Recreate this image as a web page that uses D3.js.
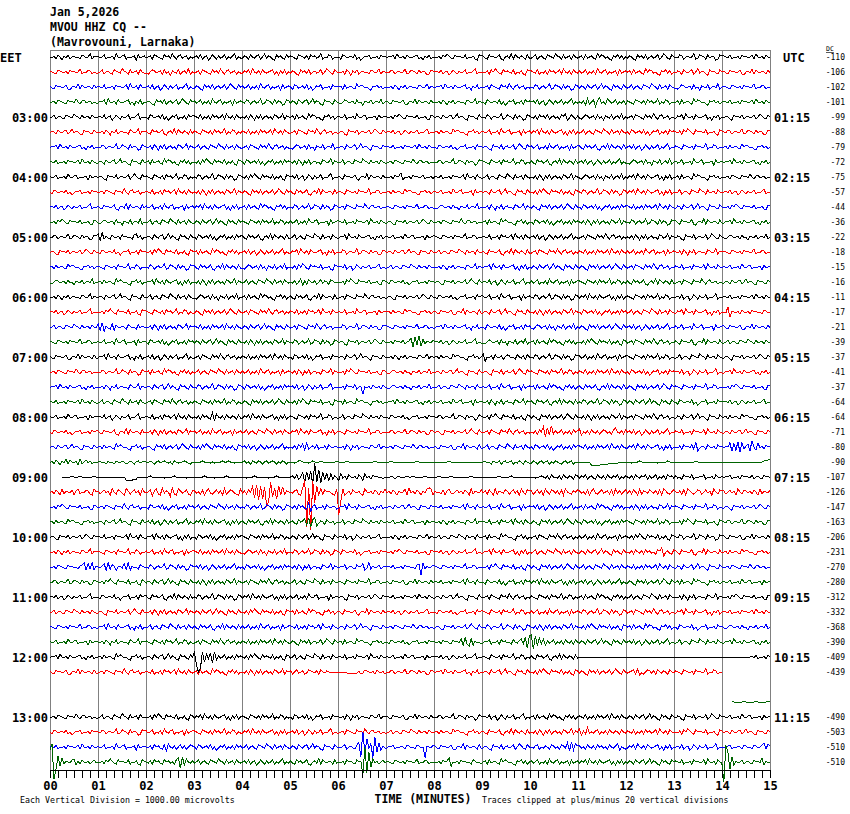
<!DOCTYPE html>
<html>
<head>
<meta charset="utf-8">
<script src="https://cdn.jsdelivr.net/npm/d3@7"></script>
<style>
  body { margin: 0; background: #fff; }
  svg { display: block; }
  text { font-family: "DejaVu Sans Mono", monospace; fill: #000; }
</style>
</head>
<body>
<div id="chart"></div>
<script>
// header and labels
const titleLines = ['Jan 5,2026', 'MVOU HHZ CQ --', '(Mavrovouni, Larnaka)'];
const localHours = ['03:00', '04:00', '05:00', '06:00', '07:00', '08:00', '09:00', '10:00', '11:00', '12:00', '13:00'];
const utcHours = ['01:15', '02:15', '03:15', '04:15', '05:15', '06:15', '07:15', '08:15', '09:15', '10:15', '11:15'];
const minuteLabels = ['00', '01', '02', '03', '04', '05', '06', '07', '08', '09', '10', '11', '12', '13', '14', '15'];
const dcValues = [-110, -106, -102, -101, -99, -88, -79, -72, -75, -57, -44, -36,
  -22, -18, -15, -16, -11, -17, -21, -39, -37, -41, -37, -64,
  -64, -71, -80, -90, -107, -126, -147, -163, -206, -231, -270, -280,
  -312, -332, -368, -390, -409, -439, null, null, -490, -503, -510, -510];
const traceColors = ['#000000', '#ff0000', '#0000ff', '#006400'];

// traces: one char per 2.5 s sample, 'm' = 0, each letter step = STEP_UV microvolts, '.' = no data
// groups of 24 = one minute
const STEP_UV = 70;
const h02 = [
  'mlnkomjnlokmnlmkonlmpknm nlmokmlnkpmlnokmlmnjolmn lmnkonmlkomnlpmknolmnkml mnlokmnjlomknlmokmlnpkml lnmkomlnokmplnmkjomnlkom nmlkonmlnkomnlmpkmlonkml mkonlmnlokmjlnmokmlnkomn lnmokpmlnkomlmnokmjnlokm mlnkompnlkomnmlokmlnkjon nlkomnlmokjmnlpkomlnmkol lmokmnlkonmlpnmkolmnkoml mnkolmnlkpmonlmkjnmolnkm lnmkjomnlokmnlmokmpnlkom mlonkmnlmpklonmkolnmjkon nmlokmlnkomnlmokpmlnkoml',
  'nmlkonmlnkomnlmpkmlonkml lmokmnlkonmlpnmkolmnkoml lkmonlmnkolmjnmlokmnlpkm lmnkonmlkomnlpmknolmnkml lnmokpmlnkomlmnokmjnlokm lnmkjomnlokmnlmokmpnlkom mlnkomjnlokmnlmkonlmpknm mlonkmnlmpklonmkolnmjkon mnlokmnjlomknlmokmlnpkml mlnkompnlkomnmlokmlnkjon nmlokmlnkomnlmokpmlnkoml nlmokmlnkpmlnokmlmnjolmn mnkolmnlkpmonlmkjnmolnkm lnmkomlnokmplnmkjomnlkom nlkomnlmokjmnlpkomlnmkol',
  'nlkomnlmokjmnlpkomlnmkol nmlokmlnkomnlmokpmlnkoml mnlokmnjlomknlmokmlnpkml lnmkjomnlokmnlmokmpnlkom nlmokmlnkpmlnokmlmnjolmn mkonlmnlokmjlnmokmlnkomn mnkolmnlkpmonlmkjnmolnkm mlnkomjnlokmnlmkonlmpknm lnmokpmlnkomlmnokmjnlokm lmnkonmlkomnlpmknolmnkml mlonkmnlmpklonmkolnmjkon lnmkomlnokmplnmkjomnlkom lmokmnlkonmlpnmkolmnkoml lkmonlmnkolmjnmlokmnlpkm nmlkonmlnkomnlmpkmlonkml',
  'lmnkonmlkomnlpmknolmnkml lnmokpmlnkomlmnokmjnlokm lnmkjomnlokmnlmokmpnlkom nlmokmlnkpmlnokmlmnjolmn mlonkmnlmpklonmkolnmjkon lnmkomlnokmplnmkjomnlkom lkmonlmnkolmjnmlokmnlpkm nlkomnlmokjmnlpkomlnmkol mlnkomjnlokmnlmkonlmpknm mkonlmnlokmjlnmokmlnkomn mnlokmnjlomknlmokmlnpkml mlnjpkmoinqlmkpnlmokmlnk nmlkonmlnkomnlmpkmlonkml mnkolmnlkpmonlmkjnmolnkm nmlokmlnkomnlmokpmlnkoml'
];
const h03 = [
  'lmokmnlkonmlpnmkolmnkoml mnlokmnjlomknlmokmlnpkml mkonlmnlokmjlnmokmlnkomn nmlokmlnkomnlmokpmlnkoml mlnkomjnlokmnlmkonlmpknm mnkolmnlkpmonlmkjnmolnkm nlmokmlnkpmlnokmlmnjolmn mlnkompnlkomnmlokmlnkjon lnmkomlnokmplnmkjomnlkom mlonkmnlmpklonmkolnmjkon mlnkomnlokmnlmkonpjlomkn lkmonlmnkolmjnmlokmnlpkm lmnkonmlkomnlpmknolmnkml lnmokpmlnkomlmnokmjnlokm lnmkjomnlokmnlmokmpnlkom',
  'lnmkomlnokmplnmkjomnlkom mlnkomjnlokmnlmkonlmpknm nlkomnlmokjmnlpkomlnmkol nmlkonmlnkomnlmpkmlonkml nmlokmlnkomnlmokpmlnkoml lmnkonmlkomnlpmknolmnkml lnmkjomnlokmnlmokmpnlkom mnlokmnjlomknlmokmlnpkml mnkolmnlkpmonlmkjnmolnkm nlmokmlnkpmlnokmlmnjolmn lnmokpmlnkomlmnokmjnlokm lmokmnlkonmlpnmkolmnkoml mkonlmnlokmjlnmokmlnkomn mlnkompnlkomnmlokmlnkjon mlonkmnlmpklonmkolnmjkon',
  'lnmokpmlnkomlmnokmjnlokm mlonkmnlmpklonmkolnmjkon mlnkomjnlokmnlmkonlmpknm lmokmnlkonmlpnmkolmnkoml lmnkonmlkomnlpmknolmnkml lkmonlmnkolmjnmlokmnlpkm lnmkomlnokmplnmkjomnlkom nmlokmlnkomnlmokpmlnkoml mkonlmnlokmjlnmokmlnkomn lnmkjomnlokmnlmokmpnlkom nlmokmlnkpmlnokmlmnjolmn nlkomnlmokjmnlpkomlnmkol mnlokmnjlomknlmokmlnpkml nmlkonmlnkomnlmpkmlonkml mnkolmnlkpmonlmkjnmolnkm',
  'nmlokmlnkomnlmokpmlnkoml lnmkomlnokmplnmkjomnlkom mnkolmnlkpmonlmkjnmolnkm mlnkompnlkomnmlokmlnkjon mkonlmnlokmjlnmokmlnkomn mlnkomjnlokmnlmkonlmpknm lmokmnlkonmlpnmkolmnkoml lmnkonmlkomnlpmknolmnkml mlonkmnlmpklonmkolnmjkon nmlkonmlnkomnlmpkmlonkml nlkomnlmokjmnlpkomlnmkol mnlokmnjlomknlmokmlnpkml lkmonlmnkolmjnmlokmnlpkm nlmokmlnkpmlnokmlmnjolmn lnmokpmlnkomlmnokmjnlokm'
];
const h04 = [
  'nlmokmlnkpmlnokmlmnjolmn lnmkjomnlokmnlmokmpnlkom nmlkonmlnkomnlmpkmlonkml mlonkmnlmpklonmkolnmjkon mlnkompnlkomnmlokmlnkjon mnlokmnjlomknlmokmlnpkml nlkomnlmokjmnlpkomlnmkol mlnkomnqjmlnkomnlmokmlnk nmlokmlnkomnlmokpmlnkoml lmokmnlkonmlpnmkolmnkoml mlnkomjnlokmnlmkonlmpknm lkmonlmnkolmjnmlokmnlpkm lnmokpmlnkomlmnokmjnlokm mnkolmnlkpmonlmkjnmolnkm lmnkonmlkomnlpmknolmnkml',
  'mkonlmnlokmjlnmokmlnkomn lmnkonmlkomnlpmknolmnkml nmlokmlnkomnlmokpmlnkoml mlnkomjnlokmnlmkonlmpknm lnmkjomnlokmnlmokmpnlkom nlkomnlmokjmnlpkomlnmkol nmlkonmlnkomnlmpkmlonkml mnkolmnlkpmonlmkjnmolnkm nlmokmlnkpmlnokmlmnjolmn lnmkomlnokmplnmkjomnlkom mlnkompnlkomnmlokmlnkjon mlonkmnlmpklonmkolnmjkon lnmokpmlnkomlmnokmjnlokm lmokmnlkonmlpnmkolmnkoml mnlokmnjlomknlmokmlnpkml',
  'mnlokmnjlomknlmokmlnpkml nlkomnlmokjmnlpkomlnmkol nlmokmlnkpmlnokmlmnjolmn lnmokpmlnkomlmnokmjnlokm mnkolmnlkpmonlmkjnmolnkm mlonkmnlmpklonmkolnmjkon lmnkonmlkomnlpmknolmnkml nmlkonmlnkomnlmpkmlonkml lkmonlmnkolmjnmlokmnlpkm mlnkomjnlokmnlmkonlmpknm lnmkjomnlokmnlmokmpnlkom mkonlmnlokmjlnmokmlnkomn nmlokmlnkomnlmokpmlnkoml lnmkomlnokmplnmkjomnlkom mlnkompnlkomnmlokmlnkjon',
  'mlnkompnlkomnmlokmlnkjon lkmonlmnkolmjnmlokmnlpkm lmokmnlkonmlpnmkolmnkoml lnmkomlnokmplnmkjomnlkom nmlkonmlnkomnlmpkmlonkml nlmokmlnkpmlnokmlmnjolmn nmlokmlnkomnlmokpmlnkoml lnmkjomnlokmnlmokmpnlkom lmnkonmlkomnlpmknolmnkml mnkolmnlkpmonlmkjnmolnkm mkonlmnlokmjlnmokmlnkomn mlnkomjnlokmnlmkonlmpknm mlonkmnlmpklonmkolnmjkon nlkomnlmokjmnlpkomlnmkol lnmokpmlnkomlmnokmjnlokm'
];
const h05 = [
  'mlonkmnlmpklonmkolnmjkon pjqknlkomlnkomnlmkoplnkm lnmkomlnokmplnmkjomnlkom mkonlmnlokmjlnmokmlnkomn nlkomnlmokjmnlpkomlnmkol lmokmnlkonmlpnmkolmnkoml lnmokpmlnkomlmnokmjnlokm nlmokmlnkpmlnokmlmnjolmn nmlkonmlnkomnlmpkmlonkml nmlokmlnkomnlmokpmlnkoml mnlokmnjlomknlmokmlnpkml lmnkonmlkomnlpmknolmnkml mlnkomjnlokmnlmkonlmpknm lnmkjomnlokmnlmokmpnlkom lkmonlmnkolmjnmlokmnlpkm',
  'lnmkjomnlokmnlmokmpnlkom mkonlmnlokmjlnmokmlnkomn mlnkompnlkomnmlokmlnkjon mnkolmnlkpmonlmkjnmolnkm mnlokmnjlomknlmokmlnpkml lnmokpmlnkomlmnokmjnlokm mlonkmnlmpklonmkolnmjkon lnmkomlnokmplnmkjomnlkom lmokmnlkonmlpnmkolmnkoml nlkomnlmokjmnlpkomlnmkol lmnkonmlkomnlpmknolmnkml nmlokmlnkomnlmokpmlnkoml nlmokmlnkpmlnokmlmnjolmn mlnkomjnlokmnlmkonlmpknm nmlkonmlnkomnlmpkmlonkml',
  'mnkolmnlkpmonlmkjnmolnkm nmlkonmlnkomnlmpkmlonkml mlonkmnlmpklonmkolnmjkon nlkomnlmokjmnlpkomlnmkol lkmonlmnkolmjnmlokmnlpkm mlnkompnlkomnmlokmlnkjon mnlokmnjlomknlmokmlnpkml lmokmnlkonmlpnmkolmnkoml mlnkomjnlokmnlmkonlmpknm lnmokpmlnkomlmnokmjnlokm lnmkomlnokmplnmkjomnlkom lnmkjomnlokmnlmokmpnlkom lmnkonmlkomnlpmknolmnkml nmlokmlnkomnlmokpmlnkoml nlmokmlnkpmlnokmlmnjolmn',
  'lkmonlmnkolmjnmlokmnlpkm mnkolmnlkpmonlmkjnmolnkm lnmokpmlnkomlmnokmjnlokm mlnkomjnlokmnlmkonlmpknm lmokmnlkonmlpnmkolmnkoml mlnkmpjnkomlnkmolnmkonlm mlnkompnlkomnmlokmlnkjon mkonlmnlokmjlnmokmlnkomn lnmkjomnlokmnlmokmpnlkom mnlokmnjlomknlmokmlnpkml nlmokmlnkpmlnokmlmnjolmn nmlkonmlnkomnlmpkmlonkml nlkomnlmokjmnlpkomlnmkol lmnkonmlkomnlpmknolmnkml lnmkomlnokmplnmkjomnlkom'
];
const h06 = [
  'mlnkomjnlokmnlmkonlmpknm lnmkomlnokmplnmkjomnlkom lmokmnlkonmlpnmkolmnkoml lkmonlmnkolmjnmlokmnlpkm mnkolmnlkpmonlmkjnmolnkm nlkomnlmokjmnlpkomlnmkol lmnkonmlkomnlpmknolmnkml lnmkjomnlokmnlmokmpnlkom mkonlmnlokmjlnmokmlnkomn nlmokmlnkpmlnokmlmnjolmn mlonkmnlmpklonmkolnmjkon lnmokpmlnkomlmnokmjnlokm nmlkonmlnkomnlmpkmlonkml mnlokmnjlomknlmokmlnpkml nmlokmlnkomnlmokpmlnkoml',
  'mnlokmnjlomknlmokmlnpkml mlnkompnlkomnmlokmlnkjon nmlkonmlnkomnlmpkmlonkml lnmkjomnlokmnlmokmpnlkom lmnkonmlkomnlpmknolmnkml nmlokmlnkomnlmokpmlnkoml nlmokmlnkpmlnokmlmnjolmn mnkolmnlkpmonlmkjnmolnkm nlkomnlmokjmnlpkomlnmkol lnmkomlnokmplnmkjomnlkom mlnkomjnlokmnlmkonlmpknm mkonlmnlokmjlnmokmlnkomn lmokmnlkonmlpnmkolmnkoml lnmokpmlnkomlmnokmjnlokm mlrhnmlnkomlnkomnlmkonlm',
  'lmokmnlkonmlpnmkolmnkoml pjqinlkpjomlnmkonlmkolnm mlnkomjnlokmnlmkonlmpknm nmlokmlnkomnlmokpmlnkoml lnmkomlnokmplnmkjomnlkom lmnkonmlkomnlpmknolmnkml mlonkmnlmpklonmkolnmjkon nmlkonmlnkomnlmpkmlonkml lnmokpmlnkomlmnokmjnlokm mkonlmnlokmjlnmokmlnkomn lkmonlmnkolmjnmlokmnlpkm lnmkjomnlokmnlmokmpnlkom mnlokmnjlomknlmokmlnpkml nlmokmlnkpmlnokmlmnjolmn nlkomnlmokjmnlpkomlnmkol',
  'nmlkonmlnkomnlmpkmlonkml nlmokmlnkpmlnokmlmnjolmn mkonlmnlokmjlnmokmlnkomn lnmkomlnokmplnmkjomnlkom mlnkomjnlokmnlmkonlmpknm mlonkmnlmpklonmkolnmjkon lnmkjomnlokmnlmokmpnlkom mlnkomnlokmnqhrjsipknmlo mnlokmnjlomknlmokmlnpkml lkmonlmnkolmjnmlokmnlpkm mnkolmnlkpmonlmkjnmolnkm mlnkompnlkomnmlokmlnkjon lmnkonmlkomnlpmknolmnkml nlkomnlmokjmnlpkomlnmkol lmokmnlkonmlpnmkolmnkoml'
];
const h07 = [
  'nlkomnlmokjmnlpkomlnmkol lnmokpmlnkomlmnokmjnlokm mnlokmnjlomknlmokmlnpkml lmnkonmlkomnlpmknolmnkml nmlokmlnkomnlmokpmlnkoml mkonlmnlokmjlnmokmlnkomn lnmkomlnokmplnmkjomnlkom mlnkomjnlokmnlmkonlmpknm mnkolmnlkpmonlmkjnmolnkm pimlnkomlnkmonlmkomlnkom mlonkmnlmpklonmkolnmjkon nlmokmlnkpmlnokmlmnjolmn nmlkonmlnkomnlmpkmlonkml lmokmnlkonmlpnmkolmnkoml lnmkjomnlokmnlmokmpnlkom',
  'lmnkonmlkomnlpmknolmnkml mlonkmnlmpklonmkolnmjkon mnkolmnlkpmonlmkjnmolnkm lmokmnlkonmlpnmkolmnkoml nlmokmlnkpmlnokmlmnjolmn mlnkomjnlokmnlmkonlmpknm mlnkompnlkomnmlokmlnkjon lkmonlmnkolmjnmlokmnlpkm lnmkomlnokmplnmkjomnlkom lnmkjomnlokmnlmokmpnlkom nmlkonmlnkomnlmpkmlonkml nmlokmlnkomnlmokpmlnkoml mkonlmnlokmjlnmokmlnkomn mnlokmnjlomknlmokmlnpkml lnmokpmlnkomlmnokmjnlokm',
  'lnmokpmlnkomlmnokmjnlokm mlnkomjnlokmnlmkonlmpknm lnmkomlnokmplnmkjomnlkom mlonkmnlmpklonmkolnmjkon mkonlmnlokmjlnmokmlnkomn mnlokmnjlomknlmokmlnpkml mlnkomnlokmnfmlnkomlnkom lkmonlmnkolmjnmlokmnlpkm lmokmnlkonmlpnmkolmnkoml nlmokmlnkpmlnokmlmnjolmn mnkolmnlkpmonlmkjnmolnkm nlkomnlmokjmnlpkomlnmkol lnmkjomnlokmnlmokmpnlkom nmlkonmlnkomnlmpkmlonkml mlnkompnlkomnmlokmlnkjon',
  'nmlokmlnkomnlmokpmlnkoml lmokmnlkonmlpnmkolmnkoml lmnkonmlkomnlpmknolmnkml nmlkonmlnkomnlmpkmlonkml lnmkjomnlokmnlmokmpnlkom mlnkompnlkomnmlokmlnkjon mnkolmnlkpmonlmkjnmolnkm lnmokpmlnkomlmnokmjnlokm nlmokmlnkpmlnokmlmnjolmn mlnkomjnlokmnlmkonlmpknm nlkomnlmokjmnlpkomlnmkol mlonkmnlmpklonmkolnmjkon lnmkomlnokmplnmkjomnlkom mkonlmnlokmjlnmokmlnkomn mnlokmnjlomknlmokmlnpkml'
];
const h08 = [
  'nlmokmlnkpmlnokmlmnjolmn mnlokmnjlomknlmokmlnpkml nmlokmlnkomnlmokpmlnkoml mlnkomnlkqipmlnkomlnmkol lnmokpmlnkomlmnokmjnlokm nmlkonmlnkomnlmpkmlonkml lmokmnlkonmlpnmkolmnkoml mkonlmnlokmjlnmokmlnkomn mlonkmnlmpklonmkolnmjkon mlnkompnlkomnmlokmlnkjon lnmkjomnlokmnlmokmpnlkom mlnkomjnlokmnlmkonlmpknm lmnkonmlkomnlpmknolmnkml lnmkomlnokmplnmkjomnlkom mnkolmnlkpmonlmkjnmolnkm',
  'mkonlmnlokmjlnmokmlnkomn nlkomnlmokjmnlpkomlnmkol mlnkomjnlokmnlmkonlmpknm nlmokmlnkpmlnokmlmnjolmn lmokmnlkonmlpnmkolmnkoml lnmokpmlnkomlmnokmjnlokm nmlkonmlnkomnlmpkmlonkml mlonkmnlmpklonmkolnmjkon lnmkjomnlokmnlmokmpnlkom lmnkonmlkomnlpmknolmnkml mlnkomrhqjsknlmokmlnkomn pjmlnkomlnkmonlmkoqmlnko mnlokmnjlomknlmokmlnpkml nmlokmlnkomnlmokpmlnkoml lnmkomlnokmplnmkjomnlkom',
  'lnmkomlnokmplnmkjomnlkom mnkolmnlkpmonlmkjnmolnkm lnmkjomnlokmnlmokmpnlkom mlnkompnlkomnmlokmlnkjon mnlokmnjlomknlmokmlnpkml mlnkompjqkmnlokmlnkomlnm mlnkomjnlokmnlmkonlmpknm lmnkonmlkomnlpmknolmnkml nlkomnlmokjmnlpkomlnmkol lmokmnlkonmlpnmkolmnkoml mkonlmnlokmjlnmokmlnkomn nmlokmlnkomnlmokpmlnkoml lnmokpmlnkomlmnokmjnlokm mlnkomnlokrilnmkomlnkomn lnmqipjrhqknpismjqlnkomn',
  'lnkomjnlpkomlnjpkmolnkml mnlmknlmknmlnmklnmkmnlmn mlnmkmnlmnmlmknmlmmnmlkm mmmmnmmmlmlmmmnmmnmmlmmm mnlmknmlnmkmnlmnmkmlnmkm mmlmnnmmmlmnmmmnmmlmmmmn mmmmnmmmmlmmmmmmmmnmmmmm mmnmmmmlmmmmmmmnmmmmmlmm mmmmlmmnmmmmmmmmmlmmmmmm mnlmknmlnkmnlmnkmlnmknml lnmkmnlmnkmlnmlkmnlmnkmm mmmmmmjjjjjkkkklllllmmmm mmlmmmnmmmmmmmmlmmmmnmmm mmmmmlmmmmnmmmmmmmlmmmmm mmmmmmmmmmmmmmmmmmmmnnoo'
];
const h09 = [
  '......mmlmmnmmmnmmlmmmnm mmmmmmmmmmmmmmjjjjkkmmmm mmnmmmmmmlmmmmnmmmmmlmmm mmmmmnmmmmlmmmmmnmmmmmmm mmlmmmnmmmmmmlmmmnmmmmmm mnlokmqhrjsfqhtgrjqipknl jplnkomlnkomjplnkomnlmkm mlnmkmnlmmnmmnmlmmmnmmlm mmnmmlmmnmmmmmlmmmnmmmmm mmmmlmmmnmmmmmnmmmlmmmmm mmlmmnmlnkommlnkomlnmkon lnmokmnlkomlnkomlnmokmln mlnkomlnmoknlmokmlnkomnl nlmkomnlokmlnmokmlnkomln lnmokmlnkomnmlokmnlkomnl',
  'lnkomjpknmlojnpkmlonkjpm nkmolnjpmkonljpnkmolnjpm lmoinpkjqlnmiqkjpnlmokjn nlmkojnplkmolnjpkmonlkjp lnkomrgtesfrkdvhqfsjrknm mlnokjqxbqdwcsjpkomnlkjp rdpjlnkomlnkjpmlnkomjnlp lnkomjnlmpjqlnkomjnlpqpj nlmkojnplkmolnkomjpknmlo lnkomjpknmlonkmolnjpmkon nkmolnjpmkonlnkojpmlknmo nlmkojnplkmolmnkojplnkmo lnkomjpknmlomlnkojpnlkmo mlnkojpnlkmonkmolnjpmkon nkmolnjpmkonlnkomjpknmlo',
  'mlnkompnlkomnmlokmlnkjon lmnkonmlkomnlpmknolmnkml mkonlmnlokmjlnmokmlnkomn lmokmnlkonmlpnmkolmnkoml mlonkmnlmpklonmkolnmjkon mlnkomnlkqinokmlnkomlnmk lnmokpmlnkomlmnokmjnlokm lnmkomlnokmplnmkjomnlkom nmlokmlnkomnlmokpmlnkoml nlmokmlnkpmlnokmlmnjolmn mnlokmnjlomknlmokmlnpkml mnkolmnlkpmonlmkjnmolnkm mlnkomjnlokmnlmkonlmpknm nmlkonmlnkomnlmpkmlonkml lnmkjomnlokmnlmokmpnlkom',
  'mnkolmnlkpmonlmkjnmolnkm lnmkomlnokmplnmkjomnlkom mnlokmnjlomknlmokmlnpkml lnmokpmlnkomlmnokmjnlokm nlkomnlmokjmnlpkomlnmkol mnlkomnpjqhoqilnmkomlnkm lmokmnlkonmlpnmkolmnkoml nlmokmlnkpmlnokmlmnjolmn mlnkomjnlokmnlmkonlmpknm nmlokmlnkomnlmokpmlnkoml lnmkjomnlokmnlmokmpnlkom mkonlmnlokmjlnmokmlnkomn nmlkonmlnkomnlmpkmlonkml mlnkompnlkomnmlokmlnkjon mlonkmnlmpklonmkolnmjkon'
];
const h10 = [
  'lnmkjomnlokmnlmokmpnlkom nmlokmlnkomnlmokpmlnkoml lnmokpmlnkomlmnokmjnlokm mkonlmnlokmjlnmokmlnkomn nmlkonmlnkomnlmpkmlonkml lnmkomlnokmplnmkjomnlkom mnlokmnjlomknlmokmlnpkml mlnkomjnlokmnlmkonlmpknm lmokmnlkonmlpnmkolmnkoml mnkolmnlkpmonlmkjnmolnkm lmnkonmlkomnlpmknolmnkml nlmokmlnkpmlnokmlmnjolmn mlnkompnlkomnmlokmlnkjon mlonkmnlmpklonmkolnmjkon nlkomnlmokjmnlpkomlnmkol',
  'mlnkomjnlokmnlmkonlmpknm nmlkonmlnkomnlmpkmlonkml nlmokmlnkpmlnokmlmnjolmn nmlokmlnkomnlmokpmlnkoml lkmonlmnkolmjnmlokmnlpkm mlonkmnlmpklonmkolnmjkon mkonlmnlokmjlnmokmlnkomn mlnkompnlkomnmlokmlnkjon mnlokmnjlomknlmokmlnpkml lnmokpmlnkomlmnokmjnlokm lmokmnlkonmlpnmkolmnkoml lnmkomlnokmplnmkjomnlkom mlnkomlnkomnlmkonqimnlko nlkomnlmokjmnlpkomlnmkol mnkolmnlkpmonlmkjnmolnkm',
  'mlnkonmlkomnlmknoqjpkqjn mlnpjqkonjmnlpkqjnlmkonm mlonkmnlmpklonmkolnmjkon mnlokmnjlomknlmokmlnpkml mkonlmnlokmjlnmokmlnkomn mlnkomjnlokmnlmkonlmpknm lnmokmnlkomnpjlqknlmokmn mnlokmlnkomnlmkopeqknlmo nmlkonmlnkomnlmpkmlonkml mlnkompnlkomnmlokmlnkjon lnmkjomnlokmnlmokmpnlkom lmokmnlkonmlpnmkolmnkoml nmlokmlnkomnlmokpmlnkoml lnmkomlnokmplnmkjomnlkom lmnkonmlkomnlpmknolmnkml',
  'mlonkmnlmpklonmkolnmjkon mlnkompnlkomnmlokmlnkjon lnmkomlnokmplnmkjomnlkom mlnkomjnlokmnlmkonlmpknm lmnkonmlkomnlpmknolmnkml lmokmnlkonmlpnmkolmnkoml nmlkonmlnkomnlmpkmlonkml nlkomnlmokjmnlpkomlnmkol nmlokmlnkomnlmokpmlnkoml mkonlmnlokmjlnmokmlnkomn lnmokpmlnkomlmnokmjnlokm mnlokmnjlomknlmokmlnpkml lnmkjomnlokmnlmokmpnlkom mnkolmnlkpmonlmkjnmolnkm nlmokmlnkpmlnokmlmnjolmn'
];
const h11 = [
  'mnlokmnjlomknlmokmlnpkml mkonlmnlokmjlnmokmlnkomn nlkomnlmokjmnlpkomlnmkol mlonkmnlmpklonmkolnmjkon lnmokpmlnkomlmnokmjnlokm nlmokmlnkpmlnokmlmnjolmn lnmkjomnlokmnlmokmpnlkom nmlokmlnkomnlmokpmlnkoml lnmkomlnokmplnmkjomnlkom lmnkonmlkomnlpmknolmnkml nmlkonmlnkomnlmpkmlonkml mnkolmnlkpmonlmkjnmolnkm lmokmnlkonmlpnmkolmnkoml mlnkomjnlokmnlmkonlmpknm mlnkompnlkomnmlokmlnkjon',
  'lmokmnlkonmlpnmkolmnkoml lnmkjomnlokmnlmokmpnlkom mlnkomjnlokmnlmkonlmpknm lnmkomlnokmplnmkjomnlkom mlnkompnlkomnmlokmlnkjon mnkolmnlkpmonlmkjnmolnkm nlkomnlmokjmnlpkomlnmkol mnlokmnjlomknlmokmlnpkml mkonlmnlokmjlnmokmlnkomn nmlkonmlnkomnlmpkmlonkml nlmokmlnkpmlnokmlmnjolmn mlonkmnlmpklonmkolnmjkon lmnkonmlkomnlpmknolmnkml lnmokpmlnkomlmnokmjnlokm nmlokmlnkomnlmokpmlnkoml',
  'nmlkonmlnkomnlmpkmlonkml lnmokpmlnkomlmnokmjnlokm lmokmnlkonmlpnmkolmnkoml nlkomnlmokjmnlpkomlnmkol nlmokmlnkpmlnokmlmnjolmn nmlokmlnkomnlmokpmlnkoml lnmkomlnokmplnmkjomnlkom lmnkonmlkomnlpmknolmnkml lnmkjomnlokmnlmokmpnlkom mlonkmnlmpklonmkolnmjkon mlnkomjnlokmnlmkonlmpknm mlnkompnlkomnmlokmlnkjon mnkolmnlkpmonlmkjnmolnkm mkonlmnlokmjlnmokmlnkomn lkmonlmnkolmjnmlokmnlpkm',
  'nlmokmlnkpmlnokmlmnjolmn mlnkomjnlokmnlmkonlmpknm nmlkonmlnkomnlmpkmlonkml lmnkonmlkomnlpmknolmnkml nmlokmlnkomnlmokpmlnkoml lnmkjomnlokmnlmokmpnlkom mnkolmnlkpmonlmkjnmolnkm mkonlmnlokmjlnmokmlnkomn mlnkomnlkomnlpjqkipjnlmk lnmokmlnkomnlmkomlnpkrgs tfsiqkpjnlmokmlnkomlnkom lnmkomlnokmplnmkjomnlkom mnlokmnjlomknlmokmlnpkml lmokmnlkonmlpnmkolmnkoml lnmokpmlnkomlmnokmjnlokm'
];
const h12 = [
  'lnmokpmlnkomlmnokmjnlokm mnkolmnlkpmonlmkjnmolnkm lnmkomlnokmplnmkjomnlkom qfwbrhpkqgrjnlmokmlnkomn mlnkompnlkomnmlokmlnkjon lmokmnlkonmlpnmkolmnkoml nmlokmlnkomnlmokpmlnkoml nlmokmlnkpmlnokmlmnjolmn mnlokmnjlomknlmokmlnpkml nmlkonmlnkomnlmpkmlonkml nlkomnlmokjmnlpkomlnmkol mmmmmmmmmmmmmmmmmmmmmmmm mmmmmmmmmmmmmmmmmmmmmmmm mmmmmmmmmmmmmmmmmmmmmmmm mmmmmmmmmmmmmmnlokmlnkom',
  'nlkomnlmokjmnlpkomlnmkol lmnkonmlkomnlpmknolmnkml nmlokmlnkomnlmokpmlnkoml mnkolmnlkpmonlmkjnmolnkm mlnkomjnlokmnlmkonlmpknm nkmolmnklonmlnkomlnmmmmm mmmmllllllnklonmlnkomlnk mlonkmnlmpklonmkolnmjkon lnmokpmlnkomlmnokmjnlokm lnmkomlnokmplnmkjomnlkom mlnkompnlkomnmlokmlnkjon lnmkjomnlokmnlmokmpnlkom lmnokpjlkmonlnkomlnmkoml nmlkonmlnkomnlmpkmlonkml ........................',
  '........................ ........................ ........................ ........................ ........................ ........................ ........................ ........................ ........................ ........................ ........................ ........................ ........................ ........................ ........................',
  '........................ ........................ ........................ ........................ ........................ ........................ ........................ ........................ ........................ ........................ ........................ ........................ ........................ ........................ ....nmmlmmnmmlmmnmmlmmnm'
];
const h13 = [
  'lmnkonmlkomnlpmknolmnkml lmokmnlkonmlpnmkolmnkoml mlnkompnlkomnmlokmlnkjon lnmokpmlnkomlmnokmjnlokm nmlkonmlnkomnlmpkmlonkml mkonlmnlokmjlnmokmlnkomn mlnkomjnlokmnlmkonlmpknm nlkomnlmokjmnlpkomlnmkol mlonkmnlmpklonmkolnmjkon mnlokmnjlomknlmokmlnpkml mnkolmnlkpmonlmkjnmolnkm nmlokmlnkomnlmokpmlnkoml lnmkomlnokmplnmkjomnlkom lnmkjomnlokmnlmokmpnlkom nlmokmlnkpmlnokmlmnjolmn',
  'mkonlmnlokmjlnmokmlnkomn mlonkmnlmpklonmkolnmjkon nlmokmlnkpmlnokmlmnjolmn nmlkonmlnkomnlmpkmlonkml lnmokpmlnkomlmnokmjnlokm mnlokmnjlomknlmokmlnpkml lmnkonmlkomnlpmknolmnkml lmokmnlkonmlpnmkolmnkoml mnkolmnlkpmonlmkjnmolnkm nlkomnlmokjmnlpkomlnmkol mlnkomjnlokmnlmkonlmpknm pjnkqlmlnokmlnkomlnmkoml nmlokmlnkomnlmokpmlnkoml mlnkompnlkomnmlokmlnkjon lnmkomlnokmplnmkjomnlkom',
  'nmlokmlnkomnlmokpmlnkoml nlmokmlnkpmlnokmlmnjolmn mlnkomnlkoipmlnkmolnkmon mkonlmnlokmjlnmokmlnkomn lmokmnlkonmlpnmkolmnkoml lnmkomlnokmplnmkjomnlkom mlnokmnlkoqdwgulpcvhqjnl lnmokmlnmkonlmkonlmcnmlo nlkomnlmokjmnlpkomlnmkol lnmkjomnlokmnlmokmpnlkom mlnokmlnmkonlmkonlqirjpn nlmkomlnkomnlmkomlnpjmlk lnmokpmlnkomlmnokmjnlokm mnlokmnjlomknlmokmlnpkml mlnokmlnmkonlmkonlmoqkpn',
  'xcvfsiqknmlopjnkomlnkmol mlnkompnlkomnmlokmlnkjon mlnkomnlkomnlmkoqgrjpmln lmokmnlkonmlpnmkolmnkoml mnlokmnjlomknlmokmlnpkml nlkomnlmokjmnlpkomlnmkol mlnkomnlkomnaxcvhplnkmol nmlkonmlnkomnlmpkmlonkml mlnkomnqimlnkomnlmkonlmk mnkolmnlkpmonlmkjnmolnkm nlmokmlnkpmlnokmlmnjolmn lnmokpmlnkomlmnokmjnlokm lnmkomlnokmplnmkjomnlkom nmlokmlnkomnlmokpmlnkoml ybwfrjnlmokmnlkomnlqjnlm'
];
// large peaks beyond the letter range: [row, minute, microvolts]
const spikes = [
  [29, 4.5, -900], [29, 5.33, -2300], [29, 5.42, -2500], [29, 6.0, -1500],
  [28, 5.5, 900], [40, 3.08, -1000], [46, 6.5, 1000],
  [47, 0.04, 1200], [47, 0.08, -1100], [47, 6.54, -1200], [47, 6.58, 1000],
  [47, 14.04, -1300], [47, 14.08, 1100]
];

const allRows = [].concat(h02, h03, h04, h05, h06, h07, h08, h09, h10, h11, h12, h13);

const width = 850, height = 814;
const svg = d3.select('#chart').append('svg')
  .attr('width', width).attr('height', height);

const x = d3.scaleLinear().domain([0, 15]).range([50, 770]);
const rowY = d3.scaleLinear().domain([0, 47]).range([57, 762]);
const amp = d3.scaleLinear().domain([-1000, 1000]).range([15, -15]);

// grid
svg.append('g').selectAll('line').data(d3.range(16)).join('line')
  .attr('x1', d => x(d)).attr('x2', d => x(d))
  .attr('y1', 50).attr('y2', 770)
  .attr('stroke', '#808080').attr('shape-rendering', 'crispEdges');
svg.append('line').attr('x1', 50).attr('x2', 770).attr('y1', 50).attr('y2', 50)
  .attr('stroke', '#808080').attr('shape-rendering', 'crispEdges');

// traces
const traces = allRows.map((s, i) => {
  const chars = s.replace(/\s/g, '').split('');
  const n = chars.length;
  const pts = chars.map((c, k) => ({
    t: k * 15 / (n - 1),
    v: c === '.' ? null : (c.charCodeAt(0) - 109) * STEP_UV
  }));
  spikes.filter(p => p[0] === i).forEach(p => {
    const k = Math.round(p[1] * (n - 1) / 15);
    pts[k].v = p[2];
  });
  return { row: i, pts };
});

const tg = svg.append('g');
traces.forEach(tr => {
  const line = d3.line()
    .defined(d => d.v !== null)
    .x(d => x(d.t))
    .y(d => rowY(tr.row) + amp(d.v));
  tg.append('path')
    .datum(tr.pts)
    .attr('fill', 'none')
    .attr('stroke', traceColors[tr.row % 4])
    .attr('stroke-width', 1)
    .attr('shape-rendering', 'crispEdges')
    .attr('d', line);
});

// header
svg.append('g').selectAll('text').data(titleLines).join('text')
  .attr('x', 50).attr('y', (d, i) => 16 + i * 15)
  .attr('font-size', 11.5).attr('font-weight', 'bold')
  .text(d => d);

// left / right labels
svg.append('text').attr('x', 0).attr('y', rowY(0) + 4.5)
  .attr('font-size', 12).attr('font-weight', 'bold').text('EET');
svg.append('text').attr('x', 783).attr('y', rowY(0) + 4.5)
  .attr('font-size', 12).attr('font-weight', 'bold').text('UTC');
svg.append('g').selectAll('text').data(localHours).join('text')
  .attr('x', 48).attr('y', (d, i) => rowY(4 + i * 4) + 4.5)
  .attr('text-anchor', 'end')
  .attr('font-size', 12).attr('font-weight', 'bold')
  .text(d => d);
svg.append('g').selectAll('text').data(utcHours).join('text')
  .attr('x', 774).attr('y', (d, i) => rowY(4 + i * 4) + 4.5)
  .attr('font-size', 12).attr('font-weight', 'bold')
  .text(d => d);
svg.append('g').selectAll('text').data(dcValues).join('text')
  .attr('x', 845).attr('y', (d, i) => rowY(i) + 3)
  .attr('text-anchor', 'end')
  .attr('font-size', 8)
  .text(d => d === null ? '' : d);
svg.append('text').attr('x', 826).attr('y', 51)
  .attr('font-size', 6.5).attr('text-decoration', 'underline').text('DC');

// time axis
const axisG = svg.append('g').attr('transform', 'translate(0,770)');
axisG.call(d3.axisBottom(x).tickValues(d3.range(0, 15.01, 1 / 6)).tickSize(8).tickFormat(''));
axisG.call(g => g.select('.domain').attr('stroke', '#000'));
const labelG = svg.append('g').attr('transform', 'translate(0,770)');
labelG.call(d3.axisBottom(x).tickValues(d3.range(16)).tickSize(8).tickPadding(3)
  .tickFormat((d, i) => minuteLabels[i]));
labelG.select('.domain').remove();
svg.selectAll('.tick line').attr('stroke', '#000').attr('shape-rendering', 'crispEdges');
labelG.selectAll('.tick text')
  .attr('font-family', '"DejaVu Sans Mono", monospace')
  .attr('font-size', 12).attr('font-weight', 'bold').attr('fill', '#000');

svg.append('text').attr('x', 423).attr('y', 803).attr('text-anchor', 'middle')
  .attr('font-size', 11.5).attr('font-weight', 'bold').text('TIME (MINUTES)');
svg.append('text').attr('x', 20).attr('y', 803)
  .attr('font-size', 8.3).text('Each Vertical Division = 1000.00 microvolts');
svg.append('text').attr('x', 482).attr('y', 803)
  .attr('font-size', 8.2).text('Traces clipped at plus/minus 20 vertical divisions');
</script>
</body>
</html>
